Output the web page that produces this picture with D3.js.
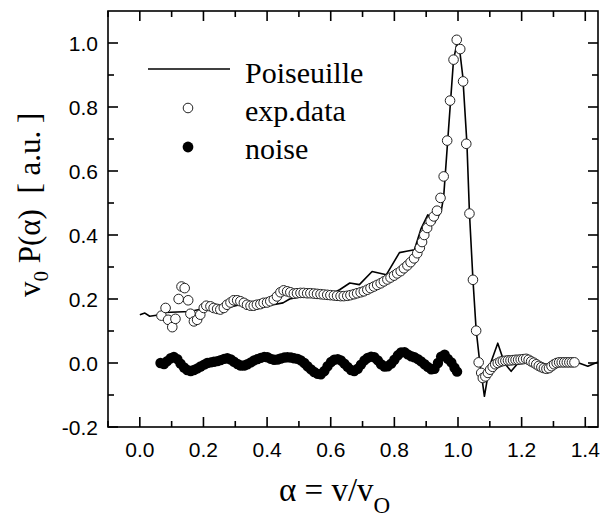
<!DOCTYPE html>
<html>
<head>
<meta charset="utf-8">
<script src="https://cdn.jsdelivr.net/npm/d3@7"></script>
<style>
  body { margin: 0; background: #fff; }
  svg { display: block; }
</style>
</head>
<body>
<div id="container"></div>
<script>
// data
const poisX = [0.0, 0.016, 0.031, 0.063, 0.078, 0.157, 0.209, 0.272, 0.314, 0.356, 0.419, 0.45, 0.471, 0.502, 0.55, 0.6, 0.628, 0.66, 0.69, 0.73, 0.775, 0.816, 0.838, 0.863, 0.884, 0.905, 0.926, 0.947, 0.955, 0.986, 0.997, 1.005, 1.015, 1.028, 1.036, 1.047, 1.057, 1.068, 1.083, 1.099, 1.125, 1.146, 1.167, 1.193, 1.25, 1.287, 1.308, 1.38, 1.408, 1.44];
const poisY = [0.151, 0.156, 0.146, 0.151, 0.158, 0.161, 0.172, 0.172, 0.182, 0.177, 0.182, 0.188, 0.2, 0.206, 0.207, 0.215, 0.229, 0.25, 0.245, 0.286, 0.276, 0.345, 0.349, 0.354, 0.42, 0.463, 0.438, 0.474, 0.52, 0.948, 1.0, 0.98, 0.896, 0.687, 0.469, 0.26, 0.104, 0.005, -0.104, -0.01, 0.062, 0.0, -0.026, 0.005, 0.005, -0.021, 0.0, 0.0, -0.01, 0.003];

const expX = [0.068, 0.081, 0.089, 0.102, 0.112, 0.122, 0.131, 0.141, 0.152, 0.159, 0.170, 0.180, 0.190, 0.201,
  0.209, 0.222, 0.232, 0.243, 0.253, 0.264, 0.274, 0.285, 0.295, 0.306, 0.316, 0.327, 0.337, 0.348, 0.358, 0.368, 0.379, 0.389, 0.400, 0.410, 0.421, 0.431, 0.442, 0.452, 0.463, 0.473, 0.484,
  0.494, 0.505, 0.515, 0.526, 0.536, 0.547, 0.557, 0.568, 0.578, 0.589, 0.599, 0.610, 0.620, 0.631, 0.641, 0.652, 0.662, 0.673, 0.683, 0.694,
  0.704, 0.715, 0.725, 0.736, 0.746, 0.757, 0.767, 0.778, 0.788, 0.799, 0.809, 0.820, 0.830, 0.841, 0.851, 0.862, 0.872, 0.880, 0.887, 0.894,
  0.903, 0.914, 0.924, 0.934, 0.945, 0.955, 0.966, 0.975, 0.986, 0.996, 1.007, 1.016, 1.026, 1.036, 1.047, 1.057,
  1.065, 1.073, 1.078, 1.086, 1.094, 1.101, 1.109, 1.117, 1.125, 1.133, 1.141, 1.149, 1.157, 1.165, 1.173, 1.181, 1.189, 1.197, 1.205, 1.214,
  1.222, 1.230, 1.238, 1.246, 1.254, 1.262, 1.270, 1.278, 1.286, 1.294, 1.302, 1.310, 1.318, 1.326, 1.334, 1.342, 1.350, 1.358, 1.366];
const expY = [0.148, 0.172, 0.135, 0.112, 0.138, 0.200, 0.239, 0.234, 0.196, 0.154, 0.130, 0.135, 0.151, 0.172,
  0.179, 0.177, 0.172, 0.169, 0.167, 0.172, 0.182, 0.189, 0.196, 0.196, 0.193, 0.188, 0.182, 0.179, 0.179, 0.182, 0.184, 0.188, 0.189, 0.193, 0.198, 0.208, 0.221, 0.227, 0.224, 0.221, 0.217,
  0.218, 0.219, 0.219, 0.218, 0.218, 0.217, 0.216, 0.215, 0.214, 0.213, 0.212, 0.211, 0.210, 0.209, 0.209, 0.210, 0.212, 0.215, 0.218, 0.221,
  0.224, 0.229, 0.234, 0.239, 0.244, 0.249, 0.255, 0.261, 0.267, 0.273, 0.280, 0.287, 0.296, 0.305, 0.315, 0.327, 0.343, 0.360, 0.378, 0.400,
  0.422, 0.443, 0.458, 0.476, 0.516, 0.583, 0.695, 0.820, 0.948, 1.010, 0.981, 0.880, 0.685, 0.467, 0.260, 0.101,
  0.002, -0.031, -0.047, -0.042, -0.031, -0.021, -0.012, -0.004, 0.000, 0.004, 0.006, 0.007, 0.008, 0.008, 0.009, 0.010, 0.010, 0.011, 0.012, 0.013,
  0.010, 0.005, 0.001, -0.004, -0.009, -0.013, -0.016, -0.018, -0.016, -0.010, -0.004, 0.000, 0.002, 0.002, 0.002, 0.002, 0.002, 0.002, 0.002];

const noiseX = [0.065, 0.076, 0.086, 0.097, 0.107, 0.118, 0.128, 0.139, 0.149, 0.160, 0.170, 0.181, 0.191, 0.202, 0.212, 0.223, 0.233, 0.244, 0.254, 0.265,
  0.275, 0.286, 0.296, 0.307, 0.317, 0.328, 0.338, 0.349, 0.359, 0.370, 0.380, 0.391, 0.401, 0.412, 0.422, 0.433, 0.443, 0.454, 0.464, 0.475,
  0.485, 0.496, 0.506, 0.517, 0.527, 0.538, 0.548, 0.559, 0.569, 0.580, 0.590, 0.601, 0.611, 0.622, 0.632, 0.643, 0.653, 0.664, 0.674, 0.685,
  0.695, 0.706, 0.716, 0.727, 0.737, 0.748, 0.758, 0.769, 0.779, 0.790, 0.800, 0.811, 0.821, 0.832, 0.842, 0.853, 0.863, 0.874, 0.884, 0.895,
  0.905, 0.916, 0.926, 0.937, 0.947, 0.958, 0.968, 0.979, 0.989, 0.997];
const noiseY = [0.0, -0.003, 0.006, 0.015, 0.019, 0.012, -0.002, -0.014, -0.022, -0.025, -0.022, -0.017, -0.011, -0.005, 0.0, 0.002, 0.004, 0.006, 0.009, 0.013,
  0.015, 0.011, 0.004, -0.003, -0.008, -0.008, -0.004, 0.002, 0.008, 0.012, 0.016, 0.019, 0.018, 0.013, 0.010, 0.011, 0.014, 0.017, 0.018, 0.017,
  0.015, 0.013, 0.008, 0.0, -0.010, -0.020, -0.028, -0.034, -0.035, -0.025, -0.010, 0.003, 0.010, 0.012, 0.008, -0.002, -0.012, -0.022, -0.025, -0.018,
  -0.005, 0.008, 0.016, 0.020, 0.018, 0.008, -0.004, -0.011, -0.010, -0.002, 0.010, 0.024, 0.033, 0.034, 0.027, 0.021, 0.018, 0.012, 0.005, -0.004,
  -0.012, -0.020, -0.018, 0.000, 0.020, 0.026, 0.013, 0.002, -0.015, -0.027];

const xMajor = [0.0, 0.2, 0.4, 0.6, 0.8, 1.0, 1.2, 1.4];
const xMinor = [-0.1, 0.1, 0.3, 0.5, 0.7, 0.9, 1.1, 1.3];
const yMajor = [-0.2, 0.0, 0.2, 0.4, 0.6, 0.8, 1.0];
const yMinor = [-0.1, 0.1, 0.3, 0.5, 0.7, 0.9];
const legendLabels = ["Poiseuille", "exp.data", "noise"];

const width = 601;
const height = 518;
const margin = { top: 11, right: 3, bottom: 91, left: 108 };
const serif = "'Liberation Serif', 'Times New Roman', serif";
const sans = "'Liberation Sans', Arial, sans-serif";
const nb = "\u00a0";

const svg = d3.select('#container')
  .append('svg')
  .attr('width', width)
  .attr('height', height);

const x = d3.scaleLinear()
  .domain([-0.1, 1.44])
  .range([margin.left, width - margin.right]);

const y = d3.scaleLinear()
  .domain([-0.2, 1.1])
  .range([height - margin.bottom, margin.top]);

// frame
svg.append("rect")
  .attr("x", x(-0.1))
  .attr("y", y(1.1))
  .attr("width", x(1.44) - x(-0.1))
  .attr("height", y(-0.2) - y(1.1))
  .attr("fill", "none")
  .attr("stroke", "#000")
  .attr("stroke-width", 1.6);

// inward ticks on all four sides
const majLen = 10, minLen = 6;
function ticksX(vals, len) {
  vals.forEach(v => {
    svg.append("line").attr("x1", x(v)).attr("x2", x(v))
      .attr("y1", y(-0.2)).attr("y2", y(-0.2) - len)
      .attr("stroke", "#000").attr("stroke-width", 1.6);
    svg.append("line").attr("x1", x(v)).attr("x2", x(v))
      .attr("y1", y(1.1)).attr("y2", y(1.1) + len)
      .attr("stroke", "#000").attr("stroke-width", 1.6);
  });
}
function ticksY(vals, len) {
  vals.forEach(v => {
    svg.append("line").attr("y1", y(v)).attr("y2", y(v))
      .attr("x1", x(-0.1)).attr("x2", x(-0.1) + len)
      .attr("stroke", "#000").attr("stroke-width", 1.6);
    svg.append("line").attr("y1", y(v)).attr("y2", y(v))
      .attr("x1", x(1.44)).attr("x2", x(1.44) - len)
      .attr("stroke", "#000").attr("stroke-width", 1.6);
  });
}
ticksX(xMajor, majLen);
ticksX(xMinor, minLen);
ticksY(yMajor, majLen);
ticksY(yMinor, minLen);

// tick labels
svg.selectAll(".xlab")
  .data(xMajor)
  .enter().append("text")
  .attr("class", "xlab")
  .attr("x", d => x(d))
  .attr("y", 457)
  .attr("text-anchor", "middle")
  .style("font-family", sans)
  .style("font-size", "21px")
  .text(d => d.toFixed(1));

svg.selectAll(".ylab")
  .data(yMajor)
  .enter().append("text")
  .attr("class", "ylab")
  .attr("x", 98)
  .attr("y", d => y(d))
  .attr("dy", "0.36em")
  .attr("text-anchor", "end")
  .style("font-family", sans)
  .style("font-size", "21px")
  .text(d => d.toFixed(1));

// axis titles
const xt = svg.append("text")
  .attr("x", 279)
  .attr("y", 501)
  .style("font-family", serif)
  .style("font-size", "33px");
xt.append("tspan").text("α = v/v");
xt.append("tspan").attr("dy", 12).style("font-size", "23px").text("O");

const yt = svg.append("text")
  .attr("transform", "translate(40,297) rotate(-90)")
  .style("font-family", serif)
  .style("font-size", "31px");
yt.append("tspan").text("v");
yt.append("tspan").attr("dy", 8).style("font-size", "21px").text("0");
yt.append("tspan").attr("dy", -8).text(nb + "P(α)" + nb + nb + "[" + nb + "a.u." + nb + "]");

// Poiseuille curve
const line = d3.line()
  .x(d => x(d[0]))
  .y(d => y(d[1]));

svg.append("path")
  .datum(d3.zip(poisX, poisY))
  .attr("d", line)
  .attr("fill", "none")
  .attr("stroke", "#000")
  .attr("stroke-width", 1.6)
  .attr("stroke-linejoin", "round");

// noise (filled)
svg.selectAll(".noise")
  .data(d3.zip(noiseX, noiseY))
  .enter().append("circle")
  .attr("class", "noise")
  .attr("cx", d => x(d[0]))
  .attr("cy", d => y(d[1]))
  .attr("r", 5.2)
  .attr("fill", "#000");

// experimental data (open circles)
svg.selectAll(".exp")
  .data(d3.zip(expX, expY))
  .enter().append("circle")
  .attr("class", "exp")
  .attr("cx", d => x(d[0]))
  .attr("cy", d => y(d[1]))
  .attr("r", 4.8)
  .attr("fill", "#fff")
  .attr("stroke", "#222")
  .attr("stroke-width", 1);

// legend
const legend = svg.append("g");
legend.append("line")
  .attr("x1", 148).attr("x2", 230)
  .attr("y1", 69).attr("y2", 69)
  .attr("stroke", "#000").attr("stroke-width", 1.6);
legend.append("circle")
  .attr("cx", 188).attr("cy", 108).attr("r", 4.8)
  .attr("fill", "#fff").attr("stroke", "#222");
legend.append("circle")
  .attr("cx", 188).attr("cy", 147).attr("r", 5.4)
  .attr("fill", "#000");
legend.selectAll(".ltext")
  .data(legendLabels)
  .enter().append("text")
  .attr("class", "ltext")
  .attr("x", 245)
  .attr("y", (d, i) => 83 + i * 38)
  .style("font-family", serif)
  .style("font-size", "30px")
  .text(d => d);
</script>
</body>
</html>
